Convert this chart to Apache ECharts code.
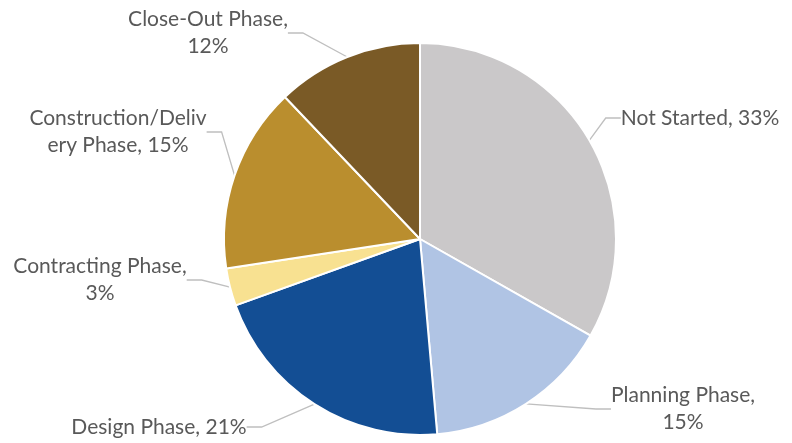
<!DOCTYPE html>
<html>
<head>
<meta charset="utf-8">
<script src="https://cdn.jsdelivr.net/npm/echarts@6/dist/echarts.min.js"></script>
<style>html,body{margin:0;padding:0;background:#fff}#c{width:792px;height:443px}</style>
</head>
<body>
<div id="c"></div>
<script>
const categories = ['Not Started', 'Planning Phase', 'Design Phase', 'Contracting Phase', 'Construction/Delivery Phase', 'Close-Out Phase'];
const values = [33.2, 15.4, 20.9, 3.1, 15.3, 12.1];
const labelTexts = ['Not Started, 33%', 'Planning Phase,\n15%', 'Design Phase, 21%', 'Contracting Phase,\n3%', 'Construction/Deliv\nery Phase, 15%', 'Close-Out Phase,\n12%'];
const colors = ['#CAC8C9', '#B0C4E4', '#134E94', '#F8E191', '#BA8E2E', '#7A5A26'];
const labelPos = [[700,118],[683,409],[159,427],[100,280],[118,132],[208,33]];

const chart = echarts.init(document.getElementById('c'), null, {renderer:'canvas'});
chart.setOption({
  animation: false,
  series: [{
    type: 'pie',
    center: [420, 239],
    radius: 196,
    startAngle: 90,
    clockwise: true,
    data: categories.map((n,i)=>({name:n, value:values[i], itemStyle:{color:colors[i]}})),
    itemStyle: {borderColor:'#fff', borderWidth:2},
    label: {
      show: true,
      formatter: p => labelTexts[p.dataIndex],
      fontFamily: 'Lato, "Open Sans", sans-serif',
      fontSize: 21,
      lineHeight: 27,
      color: '#595959'
    },
    labelLine: {show:true, length:15, length2:15, lineStyle:{color:'#BFBFBF', width:1.3}},
    labelLayout: function(p){
      const pos = labelPos[p.dataIndex];
      return {x: pos[0], y: pos[1], align: 'center', verticalAlign: 'middle'};
    }
  }]
});
</script>
</body>
</html>
